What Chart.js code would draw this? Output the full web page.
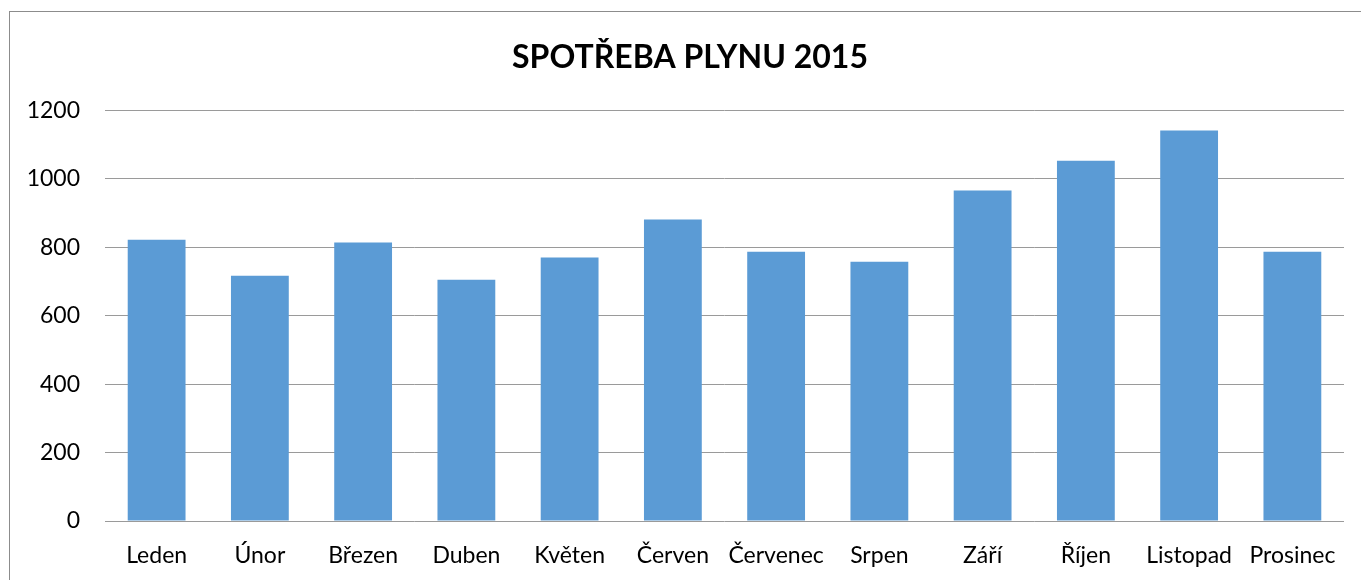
<!DOCTYPE html>
<html>
<head>
<meta charset="utf-8">
<script src="https://cdn.jsdelivr.net/npm/chart.js@4"></script>
<style>
  html, body { margin: 0; padding: 0; background: #fff; overflow: hidden; }
  #wrap { position: relative; width: 1361px; height: 580px; }
  #frame { position: absolute; left: 9px; top: 11px; width: 1400px; height: 620px; border: 1px solid #8c8c8c; }
  canvas { position: absolute; left: 0; top: 0; }
</style>
</head>
<body>
<div id="wrap">
  <div id="frame"></div>
  <canvas id="gasChart" width="1361" height="580"></canvas>
</div>
<script>
// Monthly gas consumption 2015
const months = ['Leden', 'Únor', 'Březen', 'Duben', 'Květen', 'Červen', 'Červenec', 'Srpen', 'Září', 'Říjen', 'Listopad', 'Prosinec'];
const consumption = [822, 717, 814, 705, 770, 881, 787, 758, 966, 1053, 1141, 787];
const yTicks = [0, 200, 400, 600, 800, 1000, 1200];

const font = 'Lato';

// the original chart is cropped on the right, so its title sits right of the canvas centre
const shiftTitle = {
    id: 'shiftTitle',
    afterLayout: function (chart) {
        const t = chart.titleBlock;
        if (t) {
            t.left += 18;
            t.right += 18;
        }
    }
};

new Chart(document.getElementById('gasChart'), {
    type: 'bar',
    data: {
        labels: months,
        datasets: [{
            data: consumption,
            backgroundColor: '#5b9bd5',
            borderWidth: 0,
            barPercentage: 0.56,
            categoryPercentage: 1
        }]
    },
    options: {
        responsive: false,
        animation: false,
        layout: {
            padding: { left: 0, right: 17, top: 0, bottom: 0 }
        },
        plugins: {
            legend: { display: false },
            tooltip: { enabled: false },
            title: {
                display: true,
                text: 'SPOTŘEBA PLYNU 2015',
                color: '#000',
                font: { family: font, size: 32, weight: 'bold' },
                padding: { top: 38, bottom: 34 }
            }
        },
        scales: {
            x: {
                grid: { display: false },
                border: { display: false },
                ticks: {
                    color: '#000',
                    font: { family: font, size: 23 },
                    padding: 13,
                    maxRotation: 0,
                    autoSkip: false
                },
                afterFit: function (scale) { scale.height = 59; }
            },
            y: {
                min: 0,
                max: 1200,
                afterBuildTicks: function (scale) {
                    scale.ticks = yTicks.map(v => ({ value: v }));
                },
                grid: { color: '#9a9a9a', lineWidth: 1, drawTicks: false },
                border: { display: false },
                ticks: {
                    color: '#000',
                    font: { family: font, size: 23 },
                    padding: 25,
                    callback: function (value) { return String(value); }
                },
                afterFit: function (scale) { scale.width = 105; }
            }
        }
    },
    plugins: [shiftTitle]
});
</script>
</body>
</html>
